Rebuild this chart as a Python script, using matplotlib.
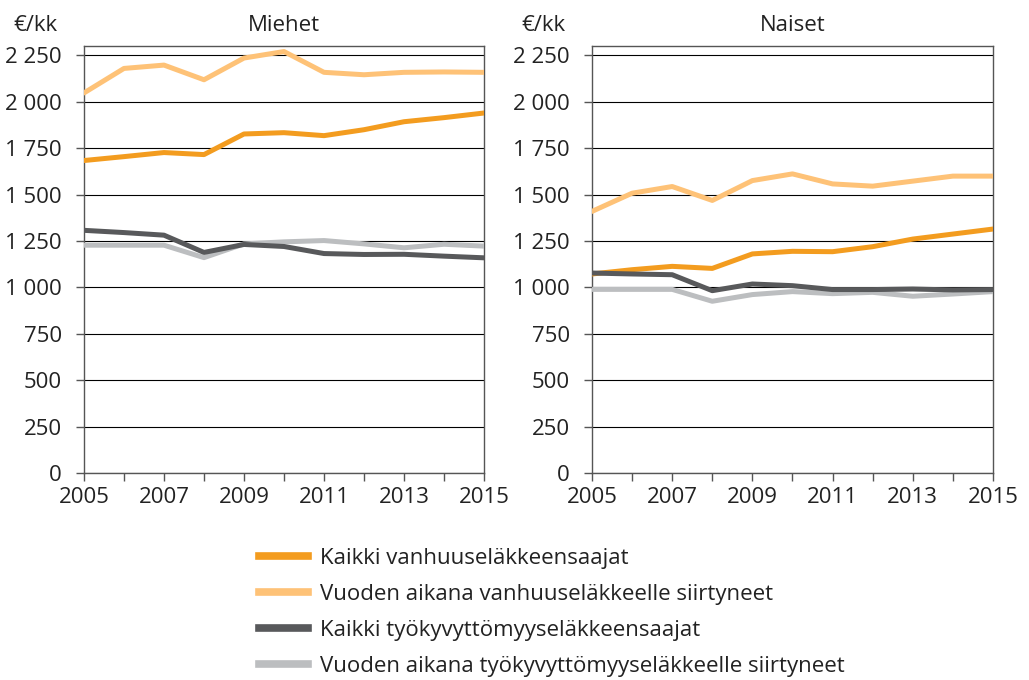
import matplotlib.pyplot as plt
from matplotlib.lines import Line2D
import numpy as np

plt.rcParams['font.family'] = ['Open Sans', 'DejaVu Sans']

years = np.arange(2005, 2016)

# Miehet
m_kaikki_vanh = [1683, 1704, 1726, 1715, 1826, 1833, 1817, 1849, 1892, 1914, 1939]
m_uudet_vanh = [2047, 2179, 2197, 2118, 2235, 2270, 2158, 2145, 2158, 2160, 2158]
m_kaikki_tk = [1307, 1295, 1281, 1188, 1231, 1220, 1182, 1177, 1178, 1168, 1159]
m_uudet_tk = [1227, 1227, 1227, 1160, 1234, 1245, 1252, 1234, 1213, 1232, 1222]

# Naiset
n_kaikki_vanh = [1072, 1095, 1113, 1102, 1180, 1194, 1192, 1219, 1260, 1287, 1314]
n_uudet_vanh = [1409, 1507, 1543, 1468, 1575, 1611, 1557, 1545, 1572, 1599, 1599]
n_kaikki_tk = [1077, 1072, 1068, 982, 1018, 1009, 988, 988, 991, 986, 988]
n_uudet_tk = [989, 989, 989, 925, 961, 977, 966, 973, 952, 964, 977]

labels = ["Kaikki vanhuuseläkkeensaajat",
          "Vuoden aikana vanhuuseläkkeelle siirtyneet",
          "Kaikki työkyvyttömyyseläkkeensaajat",
          "Vuoden aikana työkyvyttömyyseläkkeelle siirtyneet"]
colors = ["#f39c1f", "#fec277", "#58595b", "#bcbec0"]
yticks = [0, 250, 500, 750, 1000, 1250, 1500, 1750, 2000, 2250]
ytick_labels = ["0", "250", "500", "750", "1 000", "1 250", "1 500", "1 750", "2 000", "2 250"]

fig = plt.figure(figsize=(10.29, 6.8), dpi=100)
ax1 = fig.add_axes([0.0816, 0.3044, 0.3888, 0.6280])
ax2 = fig.add_axes([0.5753, 0.3044, 0.3897, 0.6280])

panels = [(ax1, "Miehet", [m_kaikki_vanh, m_uudet_vanh, m_kaikki_tk, m_uudet_tk]),
          (ax2, "Naiset", [n_kaikki_vanh, n_uudet_vanh, n_kaikki_tk, n_uudet_tk])]

for ax, title, series in panels:
    # vaaleat viivat alle, tummat päälle
    for i in [1, 0, 3, 2]:
        ax.plot(years, series[i], color=colors[i], lw=3.6, solid_capstyle='round', zorder=3)
    ax.set_xlim(2005, 2015)
    ax.set_ylim(0, 2300)
    ax.set_yticks(yticks)
    ax.set_yticklabels(ytick_labels)
    ax.set_xticks(years)
    ax.set_xticklabels([str(y) if y % 2 == 1 else "" for y in years])
    ax.grid(axis='y', color='black', lw=0.8)
    ax.set_axisbelow(True)
    for s in ax.spines.values():
        s.set_color('#555555')
        s.set_linewidth(1.0)
    ax.tick_params(axis='both', labelsize=16, color='#555555', length=6, width=1.0,
                   labelcolor='#222222')
    ax.tick_params(axis='y', pad=10)
    ax.tick_params(axis='x', pad=4)
    ax.text(0.5, 1.035, title, transform=ax.transAxes, fontsize=16,
            color='#222222', ha='center', va='baseline')
    ax.text(-0.177, 1.035, "€/kk", transform=ax.transAxes, fontsize=16,
            color='#222222', ha='left', va='baseline')

handles = [Line2D([0], [0], color=c, lw=5.5) for c in colors]
fig.legend(handles, labels, loc='upper left', bbox_to_anchor=(0.241, 0.211),
           frameon=False, fontsize=16, handlelength=2.2, handletextpad=0.55,
           labelspacing=0.68, borderpad=0.0, labelcolor='#222222')

fig.savefig("out.png", dpi=100)
